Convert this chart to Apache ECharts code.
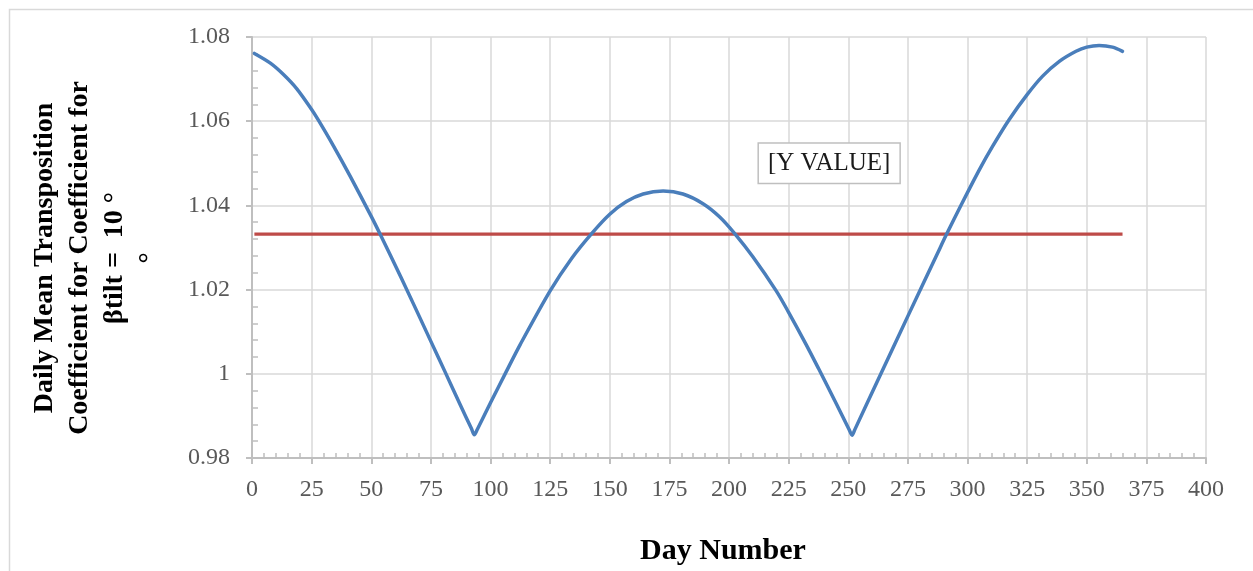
<!DOCTYPE html>
<html>
<head>
<meta charset="utf-8">
<script src="https://cdn.jsdelivr.net/npm/echarts@6/dist/echarts.min.js"></script>
<style>
html,body{margin:0;padding:0;background:#fff;}
#chart{width:1253px;height:571px;}
</style>
</head>
<body>
<div id="chart"></div>
<script>
// Day numbers and daily mean transposition coefficient
const days = [1, 7.7, 13.2, 18.8, 25, 27.9, 34.2, 41.2, 50, 53.7, 62.5, 75, 81, 87.5, 92, 93.2, 94.4, 100, 106.5, 112.5, 125, 134, 142.4, 150, 157, 164, 172.4, 180.7, 189.1, 196, 202.4, 210, 219.8, 225, 232.3, 237.5, 245, 250.4, 251.6, 252.8, 262.5, 275, 287.5, 291, 297.7, 305, 310.5, 317.5, 325, 331.5, 338.5, 345.5, 350, 355.2, 360.8, 365];
const coeff = [1.0761, 1.0738, 1.0711, 1.0677, 1.0628, 1.0602, 1.0541, 1.0469, 1.0374, 1.0332, 1.0229, 1.0077, 1.0004, 0.9924, 0.9870, 0.9855, 0.9867, 0.9931, 1.0004, 1.0070, 1.0197, 1.0274, 1.0333, 1.0379, 1.0409, 1.0427, 1.0434, 1.0427, 1.0404, 1.0373, 1.0333, 1.0278, 1.0197, 1.0146, 1.0070, 1.0013, 0.9929, 0.9867, 0.9854, 0.9868, 0.9986, 1.0137, 1.0287, 1.0329, 1.0405, 1.0485, 1.0540, 1.0604, 1.0663, 1.0707, 1.0742, 1.0766, 1.0776, 1.0780, 1.0776, 1.0766];
// Annual mean (constant line)
const meanDays = [1, 365];
const meanValue = [1.0332, 1.0332];
// Data label position
const labelDay = 242;
const labelValue = 1.05;
const labelText = '[Y VALUE]';

const xTitle = 'Day Number';
const yTitleLines = ['Daily Mean Transposition', 'Coefficient for Coefficient for', 'βtilt =  10 °', '°'];

const FONT = 'Liberation Serif';
const chart = echarts.init(document.getElementById('chart'), null, {renderer: 'canvas'});

const coeffData = days.map((d, i) => [d, coeff[i]]);
const meanData = meanDays.map((d, i) => [d, meanValue[i]]);

const gridColor = '#d9d9d9';
const axisColor = '#bfbfbf';

chart.setOption({
  animation: false,
  backgroundColor: '#fff',
  grid: {left: 252, right: 47, top: 37, bottom: 113, containLabel: false},
  xAxis: [{
    type: 'value', position: 'bottom', min: 0, max: 400, interval: 25,
    axisLine: {show: true, lineStyle: {color: axisColor, width: 2}},
    axisTick: {show: true, inside: false, length: 6, lineStyle: {color: axisColor, width: 2}},
    axisLabel: {fontFamily: FONT, fontSize: 24, color: '#595959', margin: 20},
    splitLine: {show: true, lineStyle: {color: gridColor, width: 1.5}},
    minorTick: {show: false}
  }, {
    type: 'value', position: 'bottom', min: 0, max: 400, interval: 25,
    axisLine: {show: false},
    axisTick: {show: false, inside: true},
    axisLabel: {show: false},
    splitLine: {show: false},
    minorTick: {show: true, splitNumber: 5, length: 5, lineStyle: {color: axisColor, width: 1.5}}
  }],
  yAxis: [{
    type: 'value', position: 'left', min: 0.98, max: 1.08, interval: 0.02,
    axisLine: {show: true, lineStyle: {color: axisColor, width: 2}},
    axisTick: {show: true, inside: false, length: 6, lineStyle: {color: axisColor, width: 2}},
    axisLabel: {fontFamily: FONT, fontSize: 24, color: '#595959', margin: 22,
      formatter: v => String(parseFloat(v.toFixed(2)))},
    splitLine: {show: true, lineStyle: {color: gridColor, width: 1.5}},
    minorTick: {show: false}
  }, {
    type: 'value', position: 'left', min: 0.98, max: 1.08, interval: 0.02,
    axisLine: {show: false},
    axisTick: {show: false, inside: true},
    axisLabel: {show: false},
    splitLine: {show: false},
    minorTick: {show: true, splitNumber: 5, length: 6, lineStyle: {color: axisColor, width: 1.5}}
  }],
  series: [{
    type: 'line', xAxisIndex: 0, yAxisIndex: 0,
    data: coeffData, showSymbol: false, symbol: 'none',
    smooth: 0.3,
    lineStyle: {color: '#4a7ebb', width: 3.5, cap: 'round', join: 'round'},
    z: 3
  }, {
    type: 'line', xAxisIndex: 0, yAxisIndex: 0,
    data: meanData, showSymbol: false, symbol: 'none',
    lineStyle: {color: '#be4b48', width: 3.2},
    z: 2,
    markPoint: {
      symbol: 'rect', symbolSize: 0,
      data: [{coord: [labelDay, labelValue], value: labelText}],
      label: {
        show: true, position: 'inside', formatter: labelText,
        fontFamily: FONT, fontSize: 25, color: '#1a1a1a',
        backgroundColor: '#fff', borderColor: '#bfbfbf', borderWidth: 1.5,
        padding: [8, 9, 6, 9]
      }
    }
  }],
  graphic: [{
    type: 'rect', left: 7, top: 7, silent: true,
    shape: {width: 1400, height: 800},
    style: {fill: 'none', stroke: '#d9d9d9', lineWidth: 1.5}, z: -10
  }, {
    type: 'text', x: 723, y: 551,
    style: {text: xTitle, font: 'bold 30px "' + FONT + '"', fill: '#000', textAlign: 'center', textVerticalAlign: 'middle'}
  }, {
    type: 'text', x: 97, y: 258, rotation: Math.PI / 2,
    style: {text: yTitleLines.join('\n'), font: 'bold 28px "' + FONT + '"', fill: '#000', textAlign: 'center', textVerticalAlign: 'middle', lineHeight: 35}
  }]
});
</script>
</body>
</html>
